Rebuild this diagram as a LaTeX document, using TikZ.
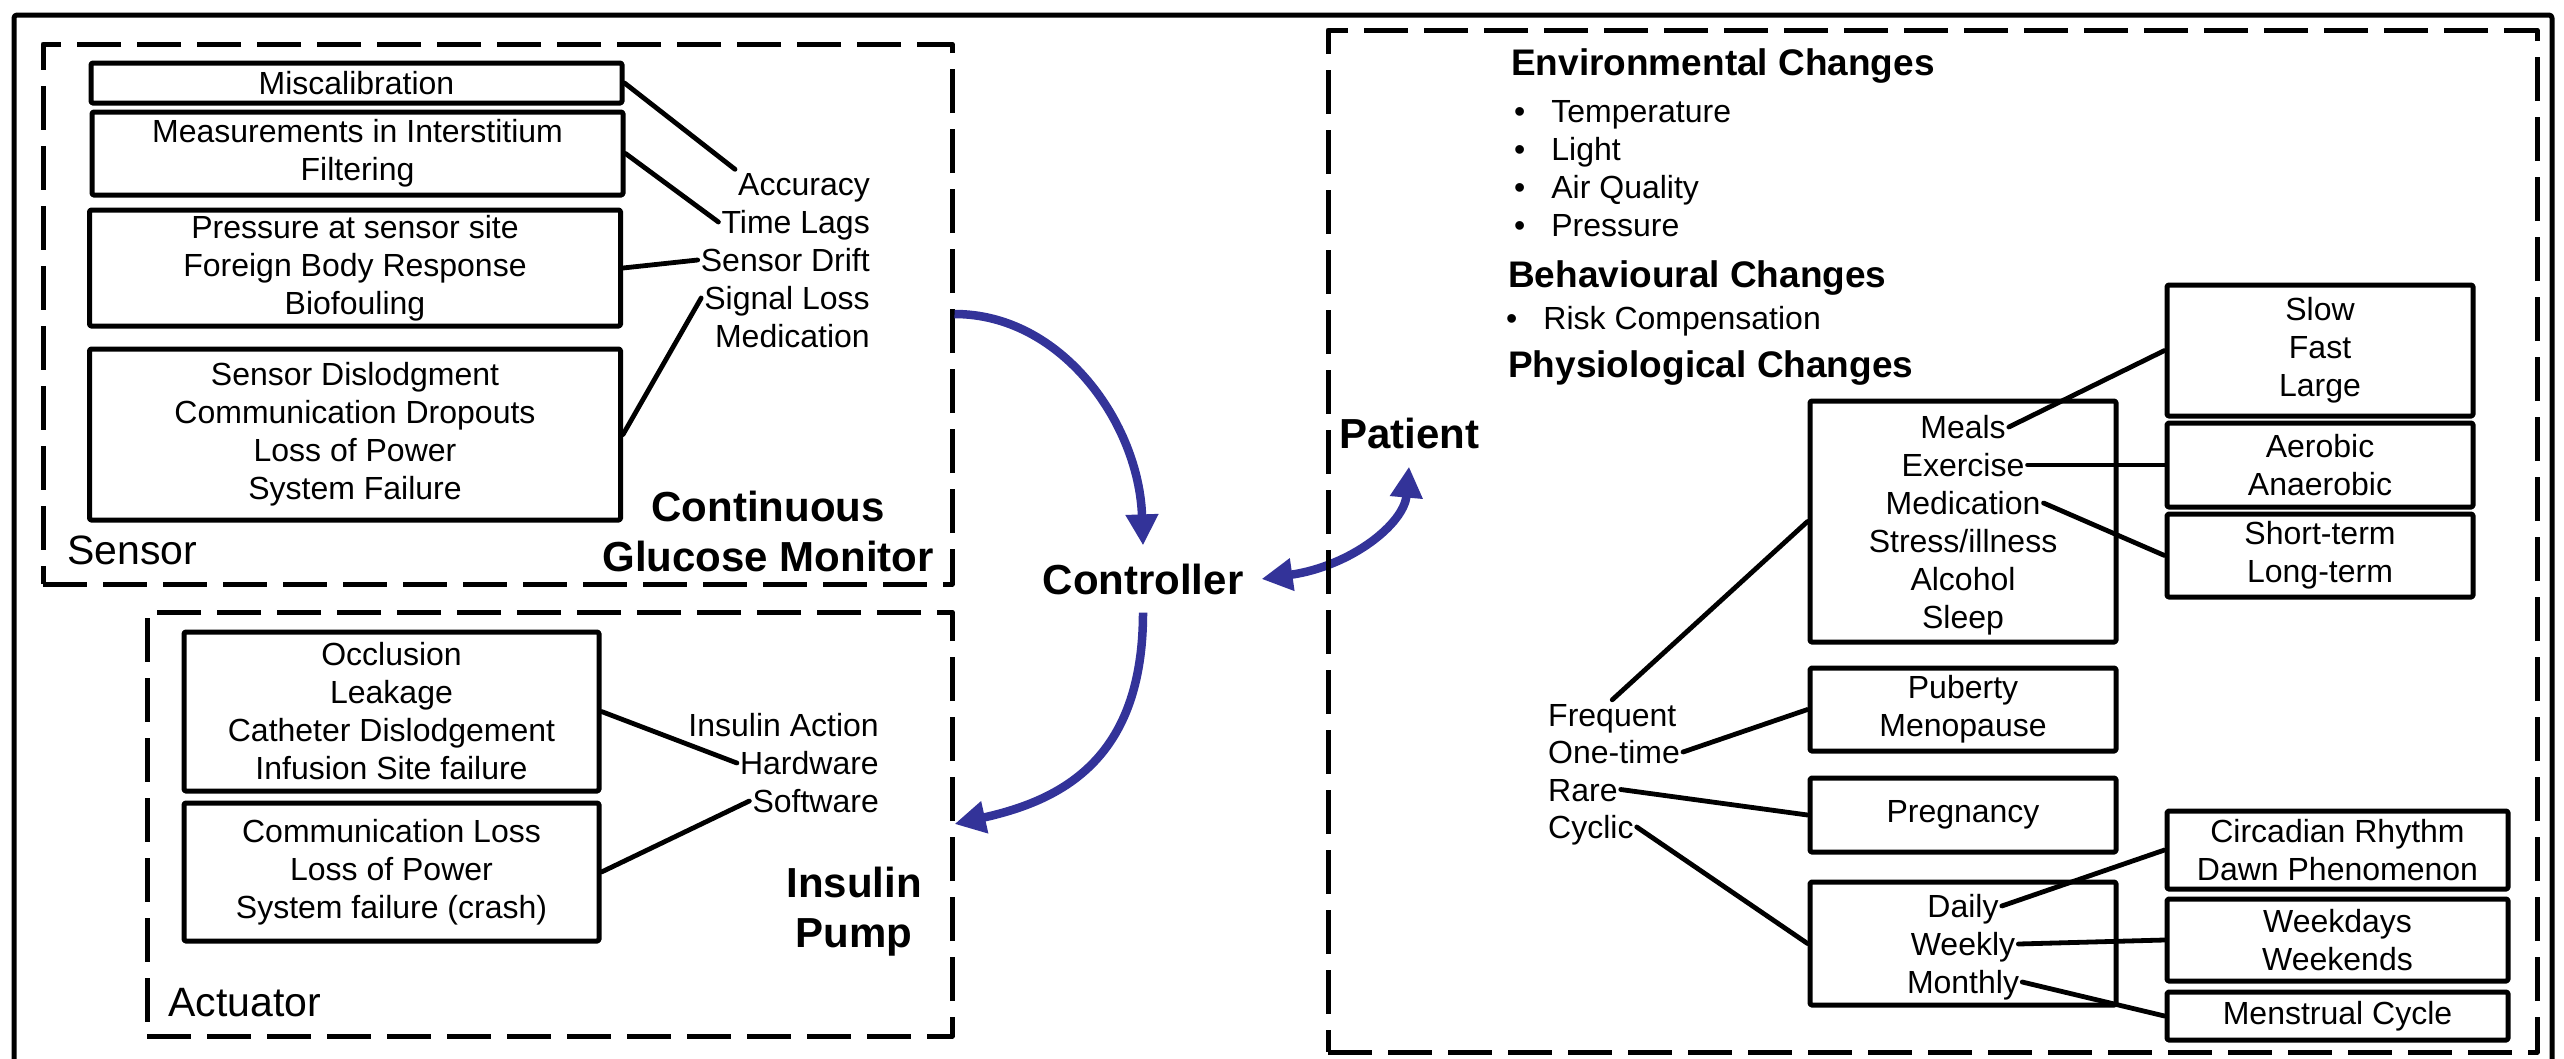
\documentclass[tikz,border=0pt]{standalone}
\usepackage{fontspec}
\setmainfont{Liberation Sans}
\usetikzlibrary{arrows.meta}
\definecolor{flowblue}{RGB}{51,51,153}
\newcommand{\txtfont}{\fontsize{32}{38}\selectfont}
\newcommand{\headfont}{\fontsize{37}{44}\selectfont\bfseries}
\newcommand{\bigfont}{\fontsize{42}{50}\selectfont\bfseries}
\begin{document}
\begin{tikzpicture}[x=1pt, y=-1pt, >={Triangle[length=31pt,width=31pt]}, line join=round, line cap=round, font=\txtfont,
  frame/.style={draw, line width=5pt, line cap=butt, dash pattern=on 44pt off 16pt, inner sep=0pt},
  box/.style={draw, line width=5pt, rounded corners=1.5pt, align=center, inner sep=0pt},
  lbl/.style={inner sep=3pt, text height=23pt, text depth=0pt},
  link/.style={line width=4.8pt},
  flow/.style={draw=flowblue, line width=8.5pt, line cap=butt}]
\useasboundingbox (0,0) rectangle (2564,1058);
\draw[line width=5pt, rounded corners=3pt] (14,15) rectangle (2552,1085);
% continuous glucose monitor
\node[frame, minimum width=909, minimum height=540] (cgm) at (497.5,314) {};
\node[box, minimum width=531, minimum height=40] (miscal) at (356.5,83) {Miscalibration};
\node[box, minimum width=531, minimum height=83] (interst) at (357.5,153.5) {Measurements in Interstitium\\Filtering};
\node[box, minimum width=531, minimum height=116] (press) at (355,268) {Pressure at sensor site\\Foreign Body Response\\Biofouling};
\node[box, minimum width=531, minimum height=171] (dislodge) at (355,434.5) {Sensor Dislodgment\\Communication Dropouts\\Loss of Power\\System Failure};
\foreach \t/\n [count=\i] in {Accuracy/acc, Time Lags/lag, Sensor Drift/drift, Signal Loss/loss, Medication/medi}
  \node[lbl, anchor=east] (\n) at (873,146+38*\i) {\t};
\draw[link] (miscal.east) -- (acc.north west);
\draw[link] (interst.east) -- (lag.west);
\draw[link] (press.east) -- (drift.west);
\draw[link] (dislodge.east) -- (loss.west);
\node[anchor=west, font=\fontsize{41}{48}\selectfont] (sensor) at (64,550) {Sensor};
\node[font=\bigfont, align=center] (cgmname) at (768,531) {Continuous\\Glucose Monitor};
% insulin pump
\node[frame, minimum width=805, minimum height=424] (pump) at (549.5,824) {};
\node[box, minimum width=415, minimum height=159] (occl) at (391.5,711.5) {Occlusion\\Leakage\\Catheter Dislodgement\\Infusion Site failure};
\node[box, minimum width=415, minimum height=138] (commloss) at (391.5,872) {Communication Loss\\Loss of Power\\System failure (crash)};
\foreach \t/\n [count=\i] in {Insulin Action/act, Hardware/hw, Software/sw}
  \node[lbl, anchor=east] (\n) at (882,687+38*\i) {\t};
\draw[link] (occl.east) -- (hw.west);
\draw[link] (commloss.east) -- (sw.west);
\node[font=\bigfont, align=center] (pumpname) at (854,912) {Insulin\\Pump};
\node[anchor=west, font=\fontsize{41}{48}\selectfont] (actuator) at (165,1003) {Actuator};
% controller and patient
\node[font=\bigfont, inner sep=18pt] (ctrl) at (1143,579) {Controller};
\node[font=\bigfont, inner sep=18pt] (patient) at (1409,433) {Patient};
\draw[flow, ->] (cgm.east) .. controls +(108,0) and +(-4,-121) .. (ctrl.north);
\draw[flow, ->] (ctrl.south) .. controls +(0,146) and +(108,-24) .. (pump.east);
\draw[flow, <->] (ctrl.east) .. controls +(90,-13) and +(-5,57) .. (patient.south);
% patient changes
\node[frame, minimum width=1209, minimum height=1022] (patframe) at (1932.5,541) {};
\node[lbl, anchor=west, font=\headfont] (envhead) at (1508,64) {Environmental Changes};
\foreach \t [count=\i] in {Temperature, Light, Air Quality, Pressure}
  \node[lbl, anchor=west] (env\i) at (1511,73+38*\i) {\textbullet\hspace{26pt}\t};
\node[lbl, anchor=west, font=\headfont] (behhead) at (1505,276) {Behavioural Changes};
\node[lbl, anchor=west] (risk) at (1503,318) {\textbullet\hspace{26pt}Risk Compensation};
\node[lbl, anchor=west, font=\headfont] (physhead) at (1505,366) {Physiological Changes};
\node[box, minimum width=306, minimum height=241] (physbox) at (1963,521.5) {};
\foreach \t [count=\i] in {Meals, Exercise, Medication, {Stress/illness}, Alcohol, Sleep}
  \node[lbl] (phys\i) at (1963,389+38*\i) {\t};
\node[box, minimum width=306, minimum height=131] (slow) at (2320,350.5) {Slow\\Fast\\Large};
\node[box, minimum width=306, minimum height=84] (aero) at (2320,465) {Aerobic\\Anaerobic};
\node[box, minimum width=306, minimum height=83] (short) at (2320,555.5) {Short-term\\Long-term};
\draw[link] (phys1.east) -- (slow.west);
\draw[link] (phys2.east) -- (aero.west);
\draw[link] (phys3.east) -- (short.west);
\foreach \t [count=\i] in {Frequent, One-time, Rare, Cyclic}
  \node[lbl, anchor=west] (freq\i) at (1545,677+37.5*\i) {\t};
\node[box, minimum width=306, minimum height=83] (puberty) at (1963,709.5) {Puberty\\Menopause};
\node[box, minimum width=306, minimum height=74] (preg) at (1963,815) {Pregnancy};
\node[box, minimum width=306, minimum height=123] (cycbox) at (1963,943.5) {};
\foreach \t [count=\i] in {Daily, Weekly, Monthly}
  \node[lbl] (cyc\i) at (1963,868+38*\i) {\t};
\node[box, minimum width=341, minimum height=78] (circ) at (2337.5,850) {Circadian Rhythm\\Dawn Phenomenon};
\node[box, minimum width=341, minimum height=82] (week) at (2337.5,940) {Weekdays\\Weekends};
\node[box, minimum width=341, minimum height=48] (mens) at (2337.5,1016) {Menstrual Cycle};
\draw[link] (freq1.north) -- (physbox.west);
\draw[link] (freq2.east) -- (puberty.west);
\draw[link] (freq3.east) -- (preg.west);
\draw[link] (freq4.east) -- (cycbox.west);
\draw[link] (cyc1.east) -- (circ.west);
\draw[link] (cyc2.east) -- (week.west);
\draw[link] (cyc3.east) -- (mens.west);
\end{tikzpicture}
\end{document}
